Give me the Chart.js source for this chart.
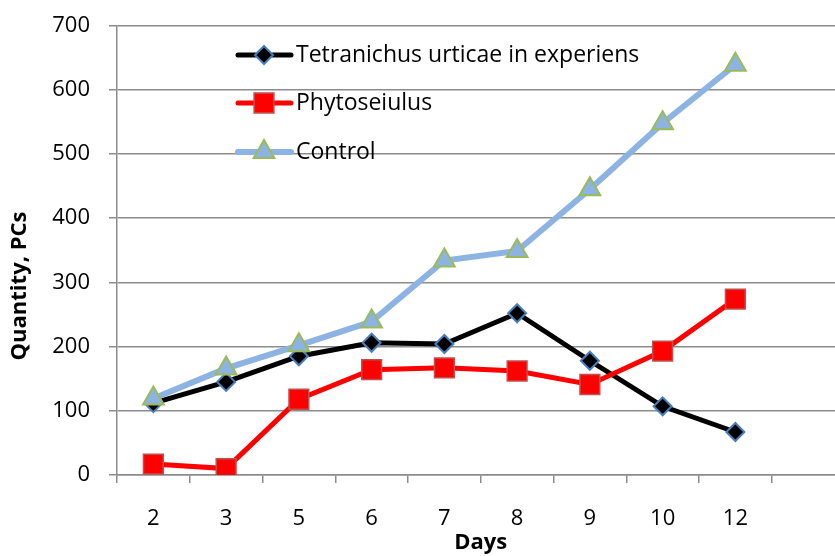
<!DOCTYPE html>
<html>
<head>
<meta charset="utf-8">
<script src="https://cdn.jsdelivr.net/npm/chart.js@4.4.0/dist/chart.umd.min.js"></script>
<style>
  html, body { margin: 0; padding: 0; background: #fff; overflow: hidden; }
</style>
</head>
<body>
<canvas id="myChart" width="860" height="556"></canvas>
<script>
var ctx = document.getElementById('myChart');

// days (last slot on the axis is empty)
var Days = ['2', '3', '5', '6', '7', '8', '9', '10', '12', ''];
var Tetranichus = [112, 145, 185, 206, 204, 252, 178, 107, 67];
var Phytoseiulus = [17, 10, 118, 164, 167, 162, 141, 193, 274];
var Control = [119, 166, 202, 239, 334, 349, 445, 548, 639];
var yTicks = [0, 100, 200, 300, 400, 500, 600, 700];

var FONT = "'Open Sans', sans-serif";

function drawMarker(c, style, x, y, r, fill, stroke, bw) {
  c.save();
  c.beginPath();
  if (style == 'rectRot') {
    c.moveTo(x, y - r); c.lineTo(x + r, y); c.lineTo(x, y + r); c.lineTo(x - r, y);
  } else if (style == 'rect') {
    var s = r * Math.SQRT1_2;
    c.rect(x - s, y - s, 2 * s, 2 * s);
  } else {
    c.moveTo(x, y - r);
    c.lineTo(x + r * Math.cos(Math.PI / 6), y + r / 2);
    c.lineTo(x - r * Math.cos(Math.PI / 6), y + r / 2);
  }
  c.closePath();
  c.fillStyle = fill; c.fill();
  c.lineWidth = bw; c.strokeStyle = stroke; c.stroke();
  c.restore();
}

// legend + y title drawn by hand, Excel style
var extras = {
  id: 'extras',
  afterDraw: function(chart) {
    var c = chart.ctx;
    var names = ['Tetranichus urticae in experiens', 'Phytoseiulus', 'Control'];
    var rows = [55, 103, 152];
    for (var i = 0; i < names.length; i++) {
      var ds = chart.data.datasets[i];
      var y = rows[i];
      c.save();
      c.strokeStyle = ds.borderColor;
      c.lineWidth = ds.borderWidth;
      c.lineCap = 'round';
      c.beginPath(); c.moveTo(238, y); c.lineTo(291, y); c.stroke();
      c.restore();
      drawMarker(c, ds.pointStyle, 264, y, ds.pointRadius, ds.pointBackgroundColor, ds.pointBorderColor, ds.pointBorderWidth);
      c.save();
      c.fillStyle = '#000';
      c.font = '23px ' + FONT;
      c.textBaseline = 'middle';
      c.fillText(names[i], 296, y);
      c.restore();
    }
    c.save();
    c.translate(20, 286);
    c.rotate(-Math.PI / 2);
    c.font = 'bold 22px ' + FONT;
    c.fillStyle = '#000';
    c.textAlign = 'center';
    c.textBaseline = 'middle';
    c.fillText('Quantity, PCs', 0, 0);
    c.restore();
  }
};

var myChart = new Chart(ctx, {
  type: 'line',
  data: {
    labels: Days,
    datasets: [{
      label: 'Tetranichus urticae in experiens',
      data: Tetranichus,
      borderColor: '#000000',
      borderWidth: 5,
      pointStyle: 'rectRot',
      pointRadius: 9,
      pointBackgroundColor: '#000000',
      pointBorderColor: '#4a7ebb',
      pointBorderWidth: 2,
      order: 2
    }, {
      label: 'Phytoseiulus',
      data: Phytoseiulus,
      borderColor: '#ff0000',
      borderWidth: 5,
      pointStyle: 'rect',
      pointRadius: 14,
      pointBackgroundColor: '#ff0000',
      pointBorderColor: '#c0504d',
      pointBorderWidth: 1.5,
      order: 1
    }, {
      label: 'Control',
      data: Control,
      borderColor: '#8db3e2',
      borderWidth: 6,
      pointStyle: 'triangle',
      pointRadius: 12,
      pointBackgroundColor: '#8db3e2',
      pointBorderColor: '#9bbb59',
      pointBorderWidth: 2,
      order: 0
    }]
  },
  options: {
    responsive: false,
    animation: false,
    layout: { padding: { left: 0, right: 15, top: 0, bottom: 0 } },
    plugins: {
      legend: { display: false },
      tooltip: { enabled: false }
    },
    scales: {
      x: {
        offset: true,
        afterFit: function(axis) { axis.height = 81; },
        grid: { offset: true, drawOnChartArea: false, drawTicks: true, tickLength: 8, color: '#8c8c8c', lineWidth: 1.5 },
        border: { color: '#8c8c8c', width: 1.5 },
        ticks: { color: '#000', font: { family: FONT, size: 22 }, padding: 23, maxRotation: 0, autoSkip: false },
        title: { display: true, text: 'Days', color: '#000', font: { family: FONT, size: 22, weight: 'bold' }, padding: { top: 0, bottom: 0 } }
      },
      y: {
        min: 0,
        max: 700,
        afterFit: function(axis) { axis.width = 117; },
        afterBuildTicks: function(axis) { axis.ticks = yTicks.map(function(v) { return { value: v }; }); },
        grid: { drawTicks: true, tickLength: 8, color: '#8c8c8c', lineWidth: 1.5 },
        border: { color: '#8c8c8c', width: 1.5 },
        ticks: { color: '#000', font: { family: FONT, size: 22, lineHeight: 0.6 }, padding: 19 }
      }
    }
  },
  plugins: [extras]
});
</script>
</body>
</html>
